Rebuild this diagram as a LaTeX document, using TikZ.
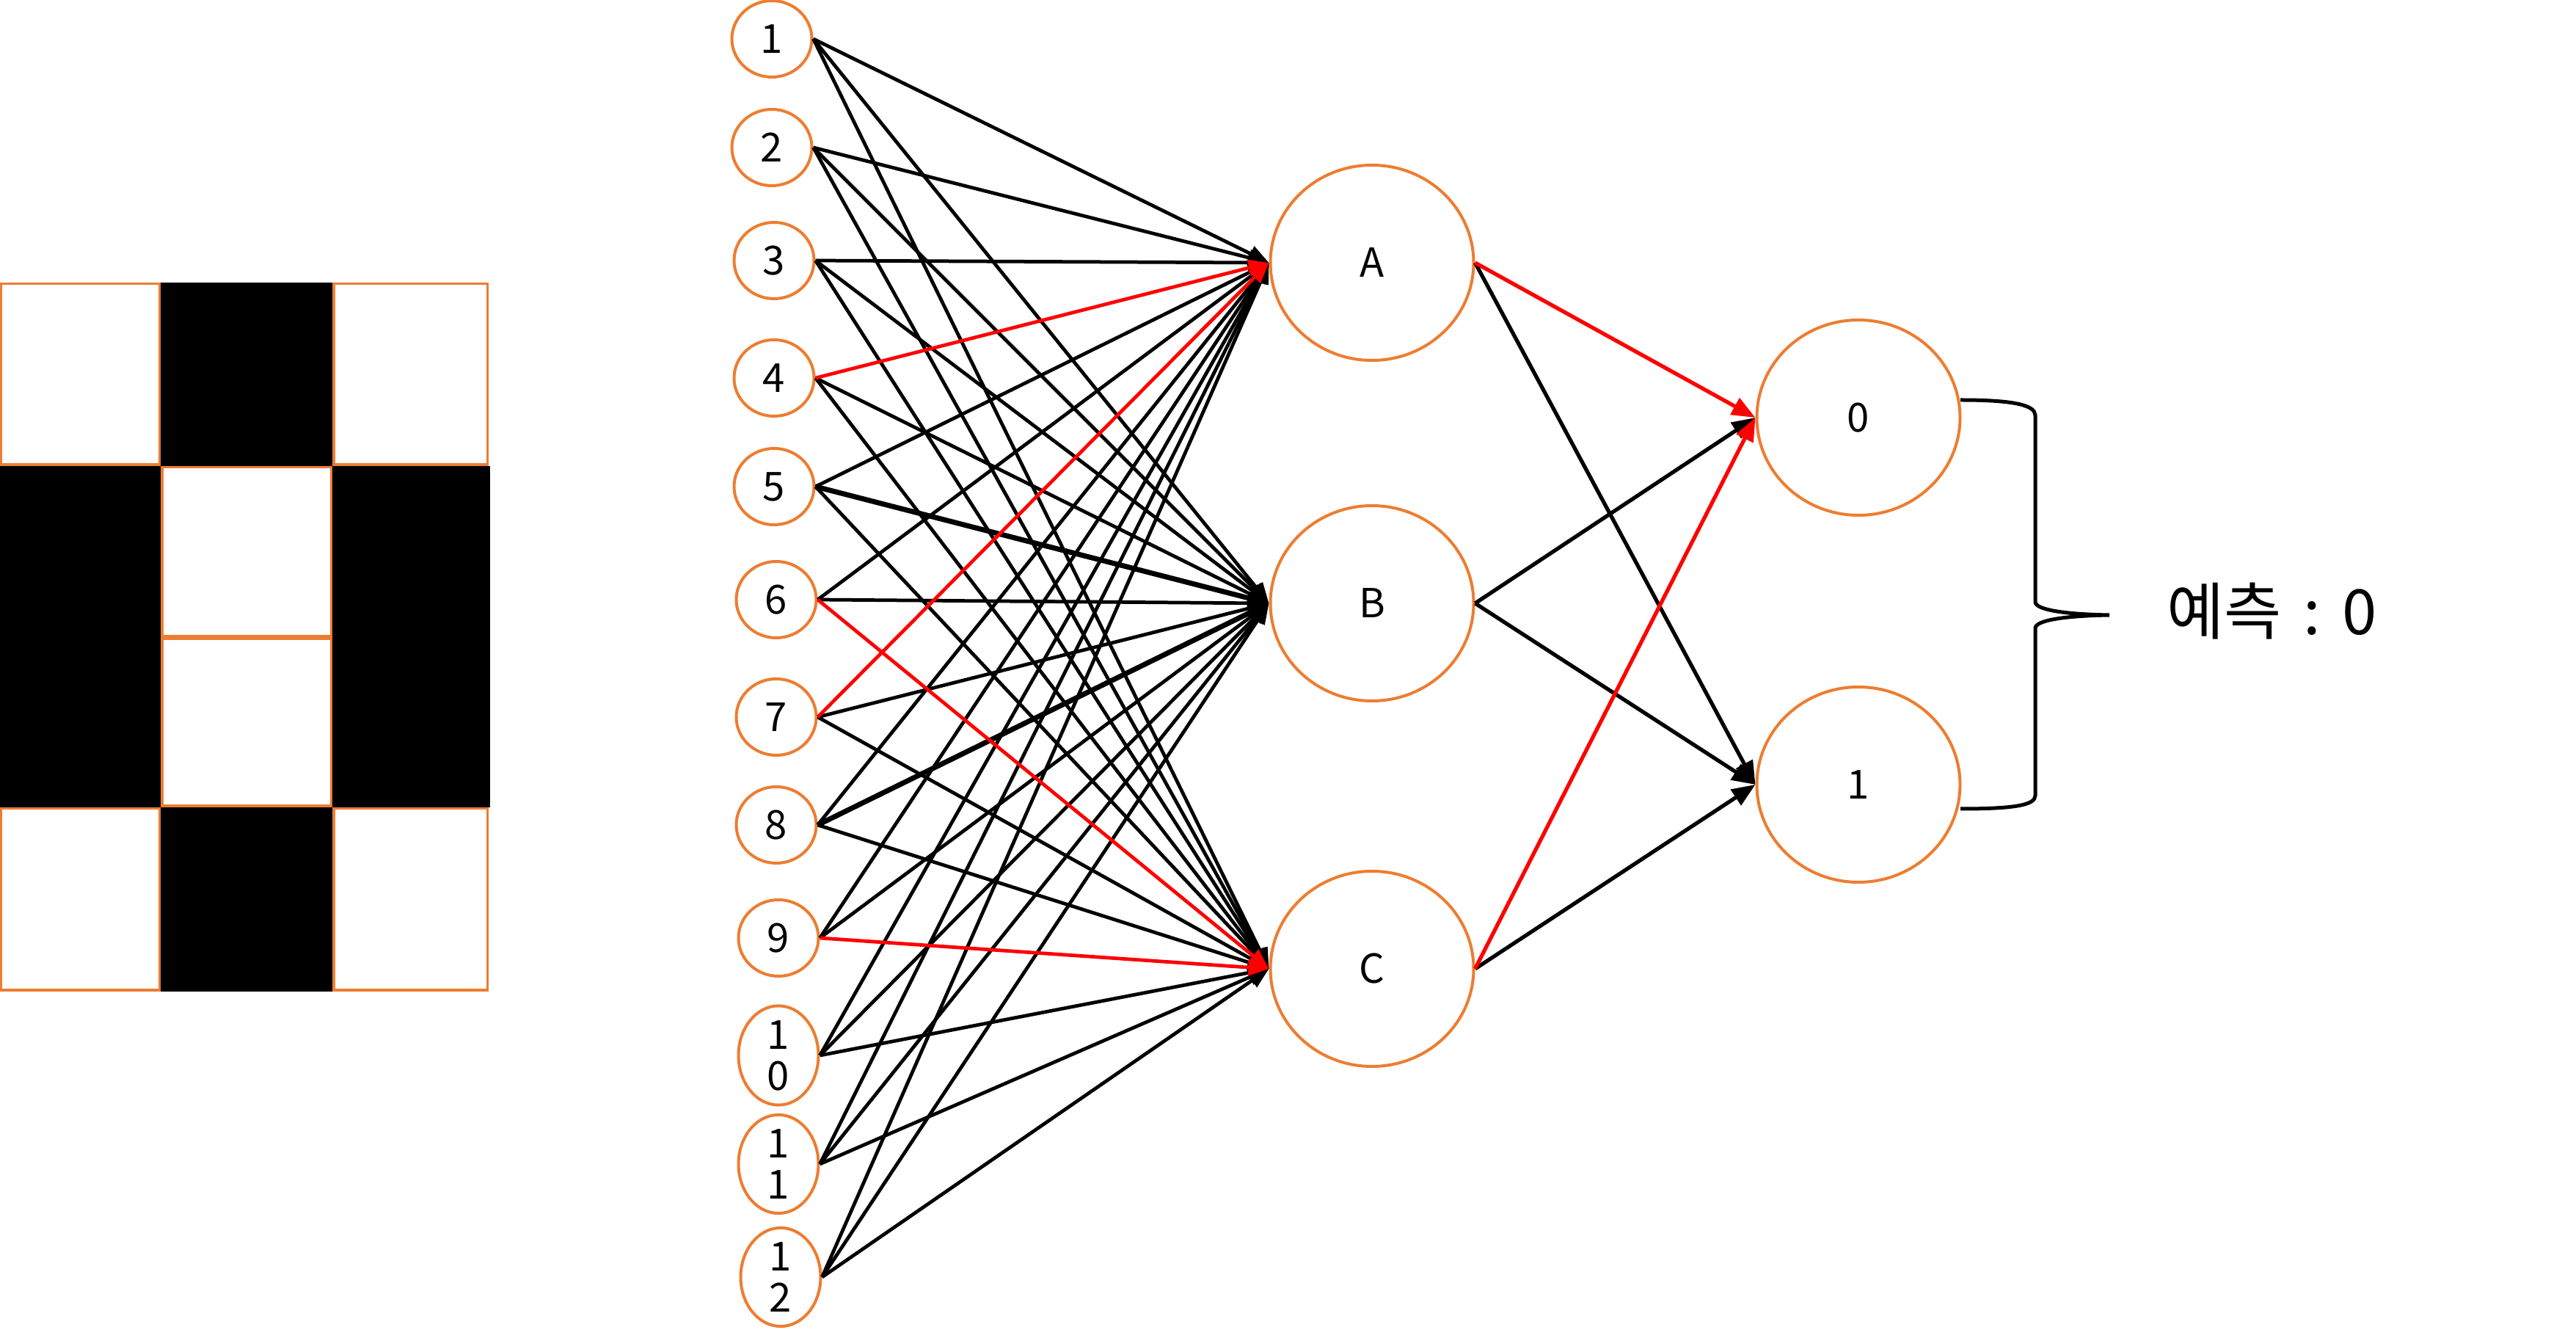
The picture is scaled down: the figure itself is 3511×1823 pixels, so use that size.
\documentclass[tikz,border=0pt]{standalone}
\usepackage{fontspec}
\newfontfamily\kr{Noto Sans CJK KR}
\usetikzlibrary{shapes.geometric,arrows.meta}
\definecolor{ora}{HTML}{ED7D31}
\definecolor{redl}{HTML}{FF0000}
\begin{document}
\begin{tikzpicture}[x=0.2pt,y=-0.2pt,
  inp/.style={ellipse,draw=ora,line width=0.8pt,minimum width=21.8pt,minimum height=20.8pt,inner sep=0pt,font=\kr\fontsize{10.9}{11.2}\selectfont,align=center},
  hid/.style={ellipse,draw=ora,line width=0.8pt,minimum width=55.4pt,minimum height=53.2pt,inner sep=0pt,font=\kr\fontsize{10.9}{11.2}\selectfont},
  bk/.style={draw=black,line width=0.95pt,-{Triangle[length=5.6pt,width=4.4pt]}},
  bkt/.style={bk,line width=1.4pt},
  rdl/.style={bk,draw=redl,-{Triangle[length=5.6pt,width=4.4pt,color=redl]}},
  obk/.style={draw=black,line width=1.05pt,-{Triangle[length=6.4pt,width=5pt]}},
  ord/.style={obk,draw=redl,-{Triangle[length=6.4pt,width=5pt,color=redl]}},
  cell/.style={draw=ora,line width=0.7pt},
  brace/.style={draw=black,line width=1pt},
  lbl/.style={inner sep=0pt,anchor=west,font=\kr\fontsize{17}{18}\selectfont}
]
\useasboundingbox (0,0) rectangle (3511,1823);
% grid
\fill[black] (219,385) rectangle (453,635);
\fill[black] (0,635) rectangle (219,1100);
\fill[black] (453,635) rectangle (668,1100);
\fill[black] (219,1100) rectangle (453,1351);
\draw[cell] (1.75,386.75) rectangle (217.25,633.25);
\draw[cell] (454.75,386.75) rectangle (664.25,633.25);
\draw[cell] (220.75,636.75) rectangle (451.25,867.25);
\draw[cell] (220.75,870.75) rectangle (451.25,1098.25);
\draw[cell] (1.75,1101.75) rectangle (217.25,1349.25);
\draw[cell] (454.75,1101.75) rectangle (664.25,1349.25);
% input nodes
\node[inp] (i1) at (1052,53) {1};
\node[inp] (i2) at (1052,201) {2};
\node[inp] (i3) at (1055,355) {3};
\node[inp] (i4) at (1055,515) {4};
\node[inp] (i5) at (1055,663) {5};
\node[inp] (i6) at (1058,817) {6};
\node[inp] (i7) at (1058,977) {7};
\node[inp] (i8) at (1058,1124) {8};
\node[inp] (i9) at (1061,1278) {9};
\node[inp] (i10) at (1061,1438) {1\\0};
\node[inp] (i11) at (1061,1586) {1\\1};
\node[inp] (i12) at (1064,1740) {1\\2};
% hidden nodes
\node[hid] (A) at (1870,358) {A};
\node[hid] (B) at (1870,822) {B};
\node[hid] (C) at (1870,1320) {C};
% output nodes
\node[hid] (o0) at (2533,569) {0};
\node[hid] (o1) at (2533,1069) {1};
% input edges
\foreach \i/\h/\s in {1/A/bk,1/B/bk,1/C/bk,2/A/bk,2/B/bk,2/C/bk,3/A/bk,3/B/bk,3/C/bk,
  4/B/bk,4/C/bk,5/A/bk,5/B/bkt,5/C/bk,6/A/bk,6/B/bk,7/B/bk,7/C/bk,
  8/A/bk,8/B/bkt,8/C/bk,9/A/bk,9/B/bk,10/A/bk,10/B/bk,10/C/bk,
  11/A/bk,11/B/bk,11/C/bk,12/A/bk,12/B/bk,12/C/bk,
  4/A/rdl,7/A/rdl,6/C/rdl,9/C/rdl}
  \draw[\s] (i\i.east) -- (\h.west);
% hidden to output
\draw[obk] (A.east) -- (o1.west);
\draw[obk] (B.east) -- (o0.west);
\draw[obk] (B.east) -- (o1.west);
\draw[obk] (C.east) -- (o1.west);
\draw[ord] (A.east) -- (o0.west);
\draw[ord] (C.east) -- (o0.west);
% brace
\draw[brace] (2672,545) .. controls (2745,545) and (2774,552) .. (2774,566) -- (2774,820)
  .. controls (2774,831) and (2815,837) .. (2875,838)
  .. controls (2815,839) and (2774,845) .. (2774,856) -- (2774,1084)
  .. controls (2774,1097) and (2745,1102) .. (2672,1102);
\node[lbl] (pred) at (2952,833) {예측\hspace{0.35em}:\hspace{0.35em}0};
\end{tikzpicture}
\end{document}
